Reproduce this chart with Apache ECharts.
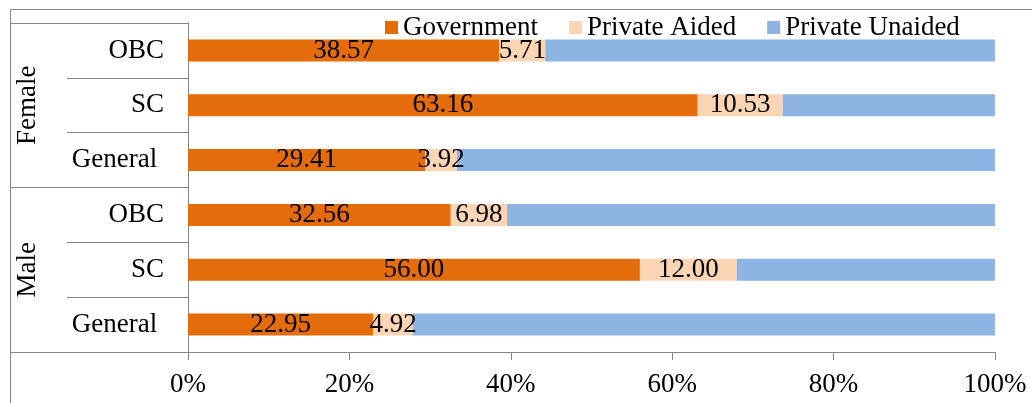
<!DOCTYPE html>
<html>
<head>
<meta charset="utf-8">
<script src="https://cdn.jsdelivr.net/npm/echarts@6/dist/echarts.min.js"></script>
<style>
html,body{margin:0;padding:0;background:#fff;}
#chart{width:1032px;height:403px;}
</style>
</head>
<body>
<div id="chart"></div>
<script>
// bottom -> top
const categories = ['General', 'SC', 'OBC', 'General', 'SC', 'OBC'];
const groups = ['Male', 'Female'];
const seriesNames = ['Government', 'Private Aided', 'Private Unaided'];
const government = [22.95, 56.00, 32.56, 29.41, 63.16, 38.57];
const privateAided = [4.92, 12.00, 6.98, 3.92, 10.53, 5.71];
const privateUnaided = [72.13, 32.00, 60.46, 66.67, 26.31, 55.72];
const xTicks = [0, 20, 40, 60, 80, 100];

const FONT = 'Liberation Serif';
const GRAY = '#878787';
const colors = ['#E46C0A', '#FCD5B5', '#8EB4E3'];

const chart = echarts.init(document.getElementById('chart'), null, {renderer: 'canvas'});
const labelCfg = {
  show: true, position: 'inside', color: '#000',
  fontFamily: FONT, fontSize: 27,
  formatter: p => Number(p.value).toFixed(2)
};
chart.setOption({
  animation: false,
  backgroundColor: '#fff',
  graphic: [{
    type: 'rect', shape: {x: 10.5, y: 9.5, width: 1200, height: 600},
    style: {fill: 'none', stroke: GRAY, lineWidth: 1}, silent: true, z: -1
  }],
  legend: {
    left: 380, top: 9, itemWidth: 13, itemHeight: 13, itemGap: 31,
    icon: 'rect',
    textStyle: {fontFamily: FONT, fontSize: 27, color: '#000'},
    data: seriesNames
  },
  grid: {left: 188, right: 37, top: 23, bottom: 51, containLabel: false},
  xAxis: {
    type: 'value', min: xTicks[0], max: xTicks[xTicks.length - 1], interval: 20,
    axisLine: {show: true, lineStyle: {color: GRAY}},
    axisTick: {show: true, length: 8, lineStyle: {color: GRAY}},
    splitLine: {show: false},
    axisLabel: {fontFamily: FONT, fontSize: 27, color: '#000', margin: 19, formatter: '{value}%'}
  },
  yAxis: [{
    type: 'category', data: categories, position: 'left',
    axisLine: {show: true, lineStyle: {color: GRAY}},
    axisTick: {show: true, length: 121, interval: 0, alignWithLabel: false, lineStyle: {color: GRAY}},
    axisLabel: {fontFamily: FONT, fontSize: 27, color: '#000', margin: 24, interval: 0,
      formatter: v => v === 'General' ? 'General ' : v}
  }, {
    type: 'category', data: groups, position: 'left', offset: 0,
    axisLine: {show: false},
    axisTick: {show: true, length: 178, interval: 0, alignWithLabel: false, lineStyle: {color: GRAY}},
    axisLabel: {fontFamily: FONT, fontSize: 27, color: '#000', margin: 147, rotate: 90, interval: 0}
  }],
  series: [
    {name: seriesNames[0], type: 'bar', stack: 'total', barWidth: 22, data: government,
     itemStyle: {color: colors[0]}, label: labelCfg},
    {name: seriesNames[1], type: 'bar', stack: 'total', barWidth: 22, data: privateAided,
     itemStyle: {color: colors[1]}, label: labelCfg},
    {name: seriesNames[2], type: 'bar', stack: 'total', barWidth: 22, data: privateUnaided,
     itemStyle: {color: colors[2]}, label: {show: false}}
  ]
});
</script>
</body>
</html>
